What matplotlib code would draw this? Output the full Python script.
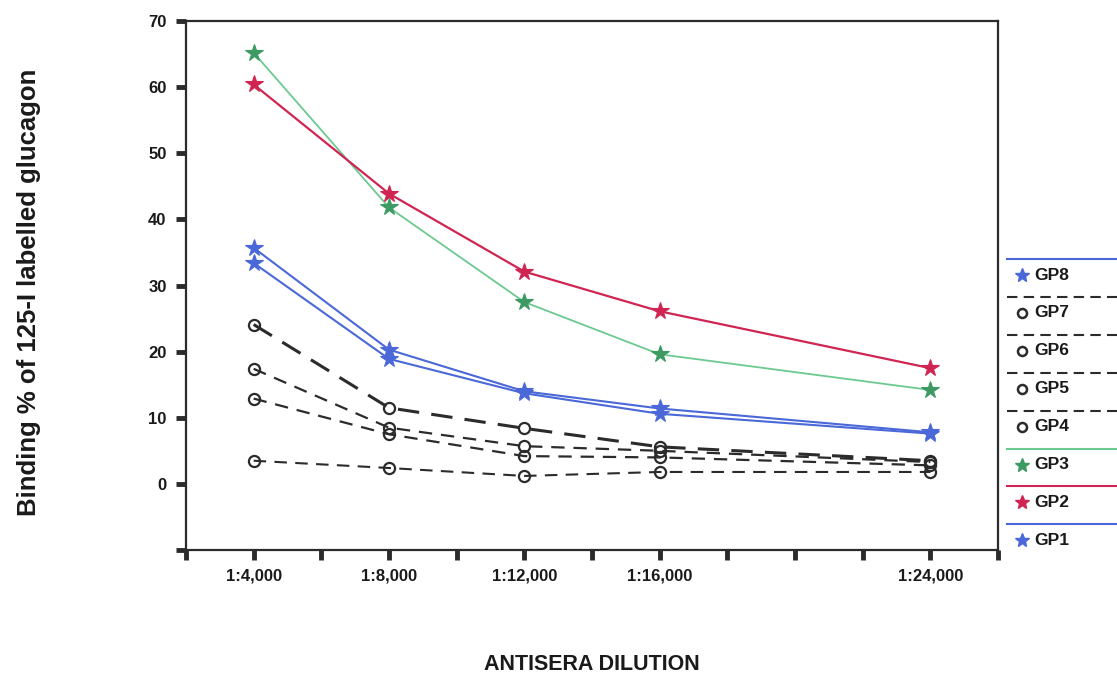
import matplotlib
matplotlib.use('agg')
import matplotlib.pyplot as plt
from matplotlib.lines import Line2D

plt.rcParams['font.family'] = ['Liberation Sans', 'DejaVu Sans']

# data
dilution = [4, 8, 12, 16, 24]
dil_labels = ['1:4,000', '1:8,000', '1:12,000', '1:16,000', '1:24,000']

gp1 = [35.7, 20.3, 14.0, 11.4, 7.8]
gp2 = [60.4, 43.9, 32.1, 26.1, 17.5]
gp3 = [65.2, 41.8, 27.5, 19.6, 14.2]
gp4 = [24.1, 11.5, 8.4, 5.6, 3.5]
gp5 = [17.4, 8.5, 5.7, 5.0, 3.3]
gp6 = [12.9, 7.5, 4.2, 4.0, 2.8]
gp7 = [3.5, 2.4, 1.2, 1.8, 1.8]
gp8 = [33.4, 18.9, 13.7, 10.6, 7.6]

BLUE = '#4a68d8'
RED = '#d02552'
GREEN_LINE = '#6cc990'
GREEN_MK = '#3d9a62'
DARK = '#2b2b2b'
TXT = '#1a1a1a'

fig = plt.figure(figsize=(11.17, 6.78), dpi=100)
ax = fig.add_axes([0.1665, 0.1888, 0.7270, 0.7802])

star = dict(marker='*', markersize=13, markeredgewidth=0.8)
circ = dict(marker='o', markersize=8, markerfacecolor='none',
            markeredgewidth=1.6, markeredgecolor=DARK)

ax.plot(dilution, gp4, color=DARK, lw=2.2, dashes=(7, 4), **circ)
ax.plot(dilution, gp5, color=DARK, lw=1.6, dashes=(6, 4), **circ)
ax.plot(dilution, gp6, color=DARK, lw=1.6, dashes=(6, 4), **circ)
ax.plot(dilution, gp7, color=DARK, lw=1.5, dashes=(6, 4), **circ)
ax.plot(dilution, gp1, color=BLUE, lw=1.5, markerfacecolor=BLUE, markeredgecolor=BLUE, **star)
ax.plot(dilution, gp8, color=BLUE, lw=1.5, markerfacecolor=BLUE, markeredgecolor=BLUE, **star)
ax.plot(dilution, gp3, color=GREEN_LINE, lw=1.3, markerfacecolor=GREEN_MK, markeredgecolor=GREEN_MK, **star)
ax.plot(dilution, gp2, color=RED, lw=1.6, markerfacecolor=RED, markeredgecolor=RED, **star)

ax.set_xlim(2, 26)
ax.set_ylim(-10, 70)
ax.set_xticks(dilution)
ax.set_xticklabels(dil_labels, fontweight='bold')
ax.set_xticks([2, 6, 10, 14, 18, 20, 22, 26], minor=True)
ax.set_yticks(range(-10, 71, 10))
ax.set_yticklabels([''] + [str(v) for v in range(0, 71, 10)], fontweight='bold')

for s in ax.spines.values():
    s.set_linewidth(1.6)
    s.set_color(DARK)
ax.tick_params(which='both', direction='out', length=7, width=3.5, color=DARK,
               labelsize=12, labelcolor=TXT)
ax.tick_params(axis='x', which='major', pad=6)
ax.tick_params(axis='y', pad=7)

fig.text(0.026, 0.569, 'Binding % of 125-I labelled glucagon', rotation=90,
         ha='center', va='center', fontsize=18.5, fontweight='bold', color=TXT)
fig.text(0.53, 0.02, 'ANTISERA DILUTION', ha='center', va='center',
         fontsize=15.5, fontweight='bold', color=TXT)

# hand-built legend on the right, a line above each entry
entries = [
    ('GP8', BLUE, 'solid', '*', BLUE),
    ('GP7', DARK, 'dashed', 'o', None),
    ('GP6', DARK, 'dashed', 'o', None),
    ('GP5', DARK, 'dashed', 'o', None),
    ('GP4', DARK, 'dashed', 'o', None),
    ('GP3', GREEN_LINE, 'solid', '*', GREEN_MK),
    ('GP2', RED, 'solid', '*', RED),
    ('GP1', BLUE, 'solid', '*', BLUE),
]
W, H = 1117.0, 678.0
for i, (lab, col, ls, mk, mcol) in enumerate(entries):
    ly = 259 + i * 37.9
    ty = ly + 16
    line = Line2D([1007 / W, 1117 / W], [1 - ly / H, 1 - ly / H], transform=fig.transFigure,
                  color=col, lw=1.5, linestyle=ls, dashes=(5, 3) if ls == 'dashed' else (None, None))
    fig.add_artist(line)
    if mk == '*':
        m = Line2D([1022 / W], [1 - ty / H], transform=fig.transFigure, marker='*',
                   markersize=10, color=mcol, markeredgecolor=mcol, lw=0)
    else:
        m = Line2D([1022 / W], [1 - ty / H], transform=fig.transFigure, marker='o',
                   markersize=6.5, markerfacecolor='none', markeredgecolor=DARK,
                   markeredgewidth=1.8, lw=0)
    fig.add_artist(m)
    fig.text(1034 / W, 1 - ty / H, lab, ha='left', va='center', fontsize=12.5,
             fontweight='bold', color=TXT)

fig.savefig('out.png', dpi=100)
